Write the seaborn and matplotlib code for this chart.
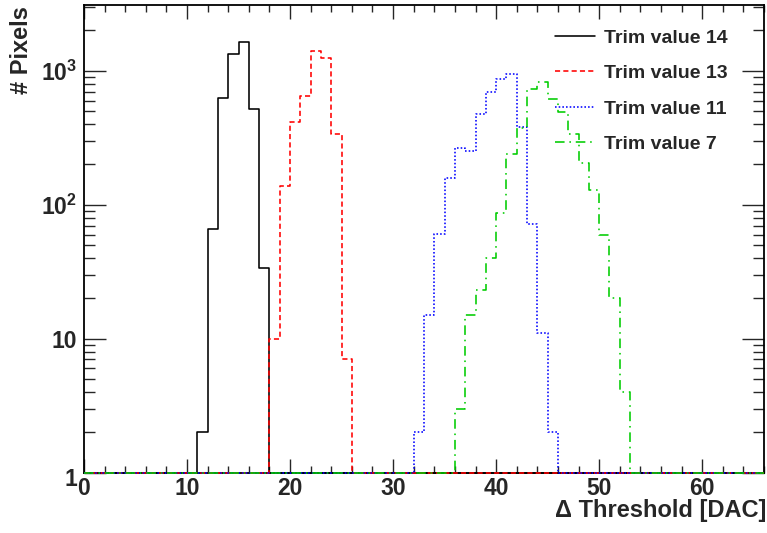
import numpy as np
import pandas as pd
import matplotlib
matplotlib.use("Agg")
import matplotlib.pyplot as plt
import matplotlib.transforms as mtransforms
from matplotlib.ticker import FixedLocator, MultipleLocator, LogLocator, NullFormatter, FuncFormatter
from matplotlib.lines import Line2D
import seaborn as sns

# ---------------- data ----------------
n_bins = 66
labels = ["Trim value 14", "Trim value 13", "Trim value 11", "Trim value 7"]
start_bins = [11, 18, 32, 36]
trim14_counts = [2, 66, 625, 1340, 1640, 517, 34]
trim13_counts = [10, 137, 418, 650, 1410, 1244, 337, 7]
trim11_counts = [2, 15, 61, 158, 265, 254, 477, 689, 871, 955, 384, 72, 11, 2]
trim7_counts = [3, 15, 23, 40, 87, 239, 373, 734, 832, 615, 492, 339, 205, 129, 59, 20, 4]
all_counts = [trim14_counts, trim13_counts, trim11_counts, trim7_counts]
x_ticks = [0, 10, 20, 30, 40, 50, 60]
y_ticks = [1, 10, 100, 1000]
y_tick_labels = ["1", "10", r"$10^{2}$", r"$10^{3}$"]

colors = ["#000000", "#ff0000", "#0000ff", "#00cc00"]
styles = ["-", (0, (3.2, 2.0)), (0, (1.0, 1.3)), (0, (6.0, 3.0, 1.0, 3.0))]

# ---------------- style ----------------
sns.set_theme(style="ticks")
plt.rcParams["font.family"] = ["Liberation Sans", "DejaVu Sans"]
plt.rcParams["font.weight"] = "bold"
plt.rcParams["mathtext.fontset"] = "custom"
plt.rcParams["mathtext.rm"] = "Liberation Sans:bold"
plt.rcParams["mathtext.bf"] = "Liberation Sans:bold"
plt.rcParams["mathtext.it"] = "Liberation Sans:bold"

W, H = 767, 533
fig = plt.figure(figsize=(W / 100, H / 100), dpi=100)
ax = fig.add_axes([84 / W, (H - 472.7) / H, (764 - 84) / W, (472.7 - 5) / H])

edges = np.arange(n_bins + 1)
handles = []
for lab, start, counts, col, ls in zip(labels, start_bins, all_counts, colors, styles):
    full = np.zeros(n_bins)
    full[start:start + len(counts)] = counts
    yv = np.clip(full, 1, None)
    yv = np.append(yv, yv[-1])
    df = pd.DataFrame({"edge": edges, "count": yv})
    sns.lineplot(data=df, x="edge", y="count", ax=ax, color=col, linestyle=ls,
                 linewidth=1.15, drawstyle="steps-post", zorder=3, clip_on=False,
                 estimator=None, legend=False)
    handles.append(Line2D([0], [0], color=col, linestyle=ls, linewidth=1.15))

ax.set_yscale("log")
ax.set_xlim(0, 66)
ax.set_ylim(1, 3100)
ax.set_xlabel("")
ax.set_ylabel("")

ax.xaxis.set_major_locator(FixedLocator(x_ticks))
ax.xaxis.set_minor_locator(MultipleLocator(2))
ax.yaxis.set_major_locator(FixedLocator(y_ticks))
ax.yaxis.set_major_formatter(FuncFormatter(lambda v, p: y_tick_labels[y_ticks.index(int(round(v)))] if int(round(v)) in y_ticks else ""))
ax.yaxis.set_minor_locator(LogLocator(base=10, subs=range(2, 10)))
ax.yaxis.set_minor_formatter(NullFormatter())

ax.tick_params(axis="x", which="major", direction="in", length=10, width=1.0,
               top=True, labelsize=16.5, pad=3)
ax.tick_params(axis="x", which="minor", direction="in", length=5, width=1.0, top=True)
ax.tick_params(axis="y", which="major", direction="in", length=15.5, width=1.0,
               right=True, labelsize=16.5, pad=5)
ax.tick_params(axis="y", which="minor", direction="in", length=8, width=1.0, right=True)
for lab in ax.get_xticklabels() + ax.get_yticklabels():
    lab.set_fontweight("bold")
for sp in ax.spines.values():
    sp.set_linewidth(1.3)
    sp.set_color("black")
    sp.set_visible(True)

# ROOT-style: the "1" label sits slightly lower than its tick
fig.canvas.draw()
for lab in ax.get_yticklabels():
    if lab.get_text() == "1":
        lab.set_transform(lab.get_transform() + mtransforms.ScaledTranslation(0, -3 / 72, fig.dpi_scale_trans))

fig.text(22 / W, 1 - 6 / H, "# Pixels", rotation=90, ha="center", va="top",
         fontsize=17, fontweight="bold")
fig.text(766 / W, 1 - 511 / H, "\u0394 Threshold [DAC]", ha="right", va="center",
         fontsize=17, fontweight="bold")

leg = fig.legend(handles, labels, loc="upper left", bbox_to_anchor=(555 / W, 1 - 29 / H),
                 frameon=False, fontsize=14, handlelength=2.05, handletextpad=0.45,
                 labelspacing=0.92, borderpad=0, borderaxespad=0)
for t in leg.get_texts():
    t.set_fontweight("bold")

fig.savefig("out.png", dpi=100)
